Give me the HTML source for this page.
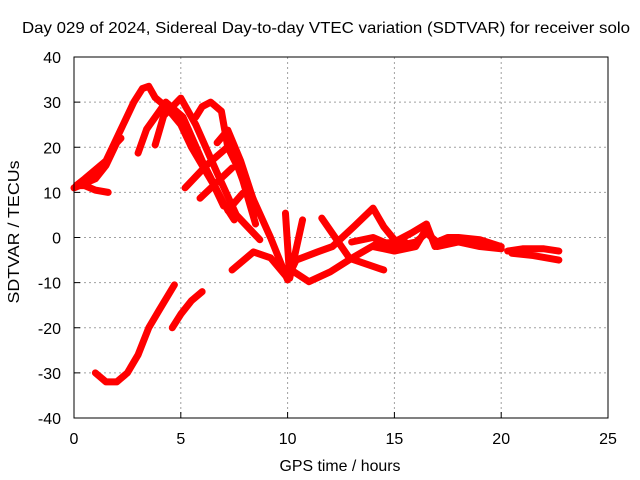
<!DOCTYPE html>
<html><head><meta charset="utf-8"><style>
body{margin:0;background:#fff}
svg{display:block;font-family:"Liberation Sans",sans-serif}
</style></head><body>
<svg id="chart" width="640" height="480">
<rect width="640" height="480" fill="#fff"/>
<text x="326" y="33" font-size="16" textLength="608" lengthAdjust="spacingAndGlyphs" text-anchor="middle">Day 029 of 2024, Sidereal Day-to-day VTEC variation (SDTVAR) for receiver solo</text>
<g id="grid"></g>
<g id="series"></g>
<rect x="74" y="57" width="534" height="361" fill="none" stroke="#000" stroke-width="1"/>
<g id="ticks" font-size="16"></g>
<text x="340" y="471" font-size="16" textLength="121" lengthAdjust="spacingAndGlyphs" text-anchor="middle">GPS time / hours</text>
<text transform="translate(19,232) rotate(-90)" font-size="16" textLength="143" lengthAdjust="spacingAndGlyphs" text-anchor="middle">SDTVAR / TECUs</text>
</svg>
<script>
const xTicks=[0,5,10,15,20,25];
const yTicks=[-40,-30,-20,-10,0,10,20,30,40];
const s1=[[1.6,10],[1,10.5],[0.5,11.5],[0.1,11.5],[0.5,13],[1,15],[1.5,17],[1.9,21],[2.3,25],[2.8,30],[3.2,33],[3.5,33.5],[3.8,31],[4.3,29],[5,25],[5.5,20],[6,16],[6.5,12],[7,7]];
const s2=[[0,11],[0.5,12],[1,13],[1.5,16],[2,21],[2.2,22]];
const s3=[[3.0,18.7],[3.4,24],[4.3,30],[5.1,26.7],[6.0,17],[7.0,7.6],[7.5,3.9]];
const s4=[[3.8,20.5],[4.2,27],[5.0,30.9],[5.7,25],[6.7,14.3],[7.6,5],[8.7,-0.5]];
const s5=[[5.7,26.7],[6.0,29],[6.4,30],[6.9,28],[7.2,20],[8.2,10.5],[9.2,0],[10,-9.4]];
const s6=[[5.2,11],[6.2,16],[7.3,20.5],[7.9,12.7],[8.5,3]];
const s7=[[5.9,8.7],[7.4,15.4]];
const s8=[[7.2,6],[7.9,9.8]];
const s9=[[6.7,21],[7.2,23.8],[7.8,17],[8.6,5.4]];
const s10=[[7.4,-7.2],[8.4,-3.2],[9.2,-4.5],[10,-9],[10.4,-5],[11.4,-3.2],[12.1,-2],[13.1,2.4],[14,6.5],[14.5,2.4],[15,-0.5]];
const s11=[[9.9,5.4],[10.1,-9],[10.7,3.9]];
const s12=[[10.1,-7],[11.0,-9.8],[12,-7.6],[13,-4.6],[14.2,-1.3],[15.5,-1]];
const s13=[[11.6,4.3],[12.9,-4.6],[14.5,-7.2]];
const s14=[[13,-1],[14,0],[15,-2],[16,-1],[16.5,1],[17,-1],[17.5,0],[18,0],[19,-0.5],[20,-2]];
const s15=[[14,-2],[15,-3],[16,-2],[16.5,2],[17,-2],[18,-1],[19,-2],[20,-2.5]];
const s16=[[15,-1],[15.8,1],[16.5,3],[16.9,-2]];
const s17=[[20.3,-3],[21,-2.5],[22,-2.5],[22.7,-3]];
const s18=[[20.5,-3.5],[21.5,-4],[22.7,-5]];
const s19=[[1.0,-30],[1.5,-32],[2,-32],[2.5,-30],[3,-26],[3.5,-20],[4,-16],[4.7,-10.5]];
const s20=[[4.6,-20],[5,-17],[5.5,-14],[6,-12]];
const allSeries=[s1,s2,s3,s4,s5,s6,s7,s8,s9,s10,s11,s12,s13,s14,s15,s16,s17,s18,s19,s20];
const X=h=>74+h*534/25, Y=v=>237.5-v*361/80;
const NS="http://www.w3.org/2000/svg";
const grid=document.getElementById('grid'),ticks=document.getElementById('ticks'),ser=document.getElementById('series');
function mk(tag,attrs,parent){const e=document.createElementNS(NS,tag);for(const k in attrs)e.setAttribute(k,attrs[k]);parent.appendChild(e);return e;}
xTicks.forEach(t=>{
  if(t>0&&t<25){const g=mk('line',{x1:X(t),x2:X(t),y1:57,y2:418,stroke:'#a0a0a0','stroke-dasharray':'2,3'},grid);
  
  }
  const tk=mk('line',{x1:X(t),x2:X(t),y1:418,y2:412,stroke:'#000'},ticks);
  
  
  const l=mk('text',{x:X(t),y:444,'text-anchor':'middle'},ticks);l.textContent=t;
  
  
});
yTicks.forEach(t=>{
  if(t>-40&&t<40){const g=mk('line',{x1:74,x2:608,y1:Y(t),y2:Y(t),stroke:'#a0a0a0','stroke-dasharray':'2,3'},grid);
  
  }
  const tk=mk('line',{x1:74,x2:80,y1:Y(t),y2:Y(t),stroke:'#000'},ticks);
  
  
  const l=mk('text',{x:61,y:Y(t)+6,'text-anchor':'end'},ticks);l.textContent=t;
  
  
});
allSeries.forEach((s,i)=>{
  const p=mk('polyline',{points:s.map(d=>X(d[0])+','+Y(d[1])).join(' '),fill:'none',stroke:'#ff0000','stroke-width':7,'stroke-linejoin':'round','stroke-linecap':'round'},ser);
  
  
});
</script>
</body></html>
